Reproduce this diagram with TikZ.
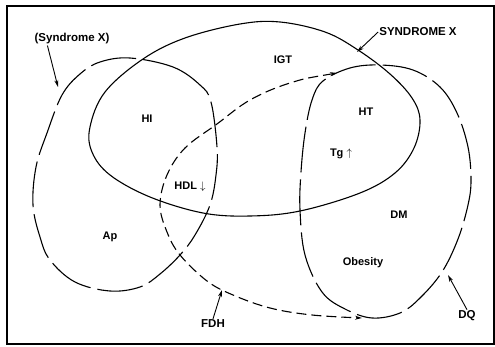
\documentclass[tikz,border=0pt]{standalone}
\usepackage{fontspec}
\setmainfont{Liberation Sans}
\usepackage{tikz}
\usetikzlibrary{arrows.meta,positioning,calc}

\begin{document}
\begin{tikzpicture}[
  x=1pt, y=-1pt,
  ring/.style={line width=1.1pt, line join=round},
  longdash/.style={ring, dash pattern=on 46pt off 7pt},
  shortdash/.style={ring, dash pattern=on 10pt off 5pt},
  arrow/.style={-{Stealth[length=7pt,width=4pt]}, line width=0.9pt},
  region/.style={font=\fontsize{11}{13}\selectfont\bfseries, inner sep=1pt},
  tag/.style={font=\fontsize{11.5}{13}\selectfont\bfseries, inner sep=1pt}
]
\useasboundingbox (0,0) rectangle (495,347);
\draw[line width=1.5pt] (7,6) rectangle (494,344);

\draw[ring] plot[smooth cycle, tension=0.6] coordinates {
  (90,127) (105,92) (143,59) (185,38) (240,24) (280,22) (325,32) (358,50)
  (390,74) (412,98) (420,120) (414,148) (395,173) (360,193) (300,211)
  (250,216) (203,213) (150,197) (110,175) (92,152)};

\draw[longdash] plot[smooth cycle, tension=0.6] coordinates {
  (130,58) (173,67) (200,85) (211,102) (217,147) (216,175) (210,205)
  (195,235) (180,255) (160,274) (140,287) (110,291) (75,282) (50,260)
  (40,237) (33,205) (36,167) (47,133) (62,95) (80,74) (100,62)};

\draw[longdash, dash phase=20pt] plot[smooth cycle, tension=0.6] coordinates {
  (323,81) (350,68) (380,65) (413,70) (440,87) (457,113) (468,147)
  (471,180) (468,205) (458,239) (442,272) (420,298) (400,313) (372,318)
  (345,309) (322,292) (305,255) (300,210) (301,172) (305,133) (312,100)};

\draw[shortdash, {Stealth[length=7pt,width=4pt]}-{Stealth[length=7pt,width=4pt]}]
  plot[smooth, tension=0.6] coordinates {
  (337,73) (290,83) (250,100) (217,124) (185,148) (167,175) (160,205)
  (167,232) (180,255) (207,281) (233,295) (270,308) (312,315) (362,318)};

\node[region] (igt) at (283,60) {IGT};
\node[region] (hi) at (147,119) {HI};
\node[region] (ht) at (366,112) {HT};
\node[region] (tg) at (341,154) {Tg $\uparrow$};
\node[region] (hdl) at (190,187) {HDL $\downarrow$};
\node[region] (ap) at (110,237) {Ap};
\node[region] (dm) at (399,215) {DM};
\node[region] (obesity) at (363,263) {Obesity};

\node[tag] (sxsmall) at (72,39) {(Syndrome X)};
\node[tag] (sxbig) at (418,32) {SYNDROME X};
\node[tag] (fdh) at (213,324) {FDH};
\node[tag] (dq) at (467,316) {DQ};

\coordinate (sxsmalltip) at (58,87);
\coordinate (sxbigtip) at (357,52);
\coordinate (fdhtip) at (222,290);
\coordinate (dqtip) at (448,275);

\draw[arrow] ([xshift=14pt]sxsmall.south west) -- (sxsmalltip);
\draw[arrow] (sxbig.west) -- (sxbigtip);
\draw[arrow] (fdh.north) -- (fdhtip);
\draw[arrow] (dq.north) -- (dqtip);
\end{tikzpicture}
\end{document}
